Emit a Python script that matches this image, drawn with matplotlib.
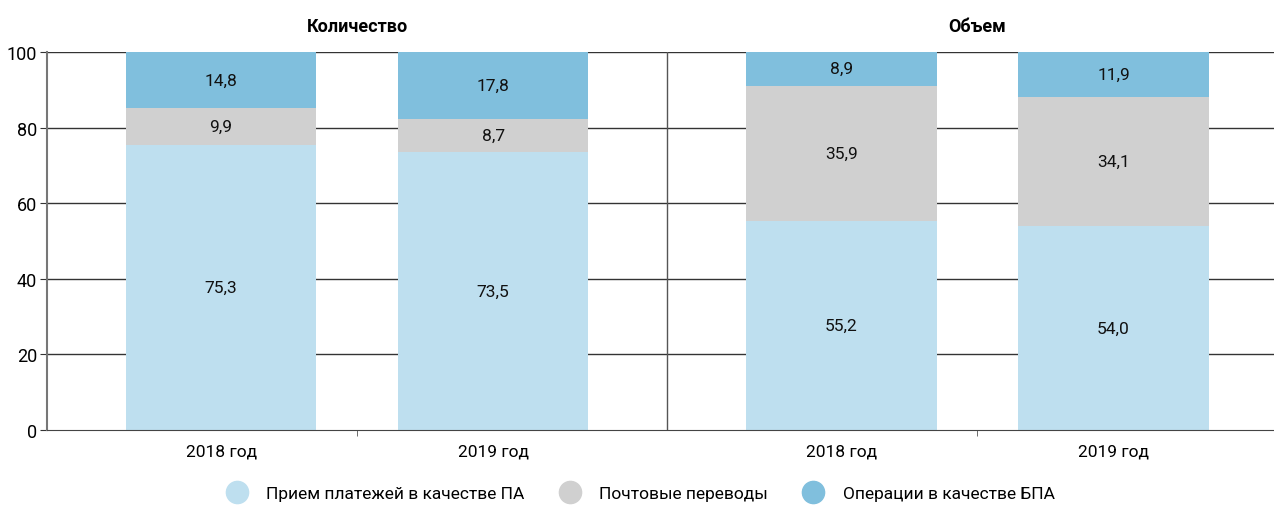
import matplotlib
matplotlib.use('Agg')
import matplotlib.pyplot as plt
from matplotlib.lines import Line2D

plt.rcParams['font.family'] = ['Roboto', 'DejaVu Sans']

years = ["2018 год", "2019 год", "2018 год", "2019 год"]
panels = ["Количество", "Объем"]
series = ["Прием платежей в качестве ПА", "Почтовые переводы", "Операции в качестве БПА"]
pa = [75.3, 73.5, 55.2, 54.0]
postal = [9.9, 8.7, 35.9, 34.1]
bpa = [14.8, 17.8, 8.9, 11.9]
colors = ["#bedfef", "#d0d0d0", "#80bfdd"]

x = [0, 1, 2.28, 3.28]
sep = 1.64
width = 0.7

fig = plt.figure(figsize=(12.74, 5.06), dpi=100)
ax = fig.add_axes([47 / 1274, 75 / 506, 1 - 47 / 1274, 378 / 506])

for v in [20, 40, 60, 80, 100]:
    ax.axhline(v, color="#333333", lw=1, zorder=0)
ax.axvline(sep, color="#555555", lw=1, zorder=0)

bottom = [0, 0, 0, 0]
for vals, c in zip([pa, postal, bpa], colors):
    ax.bar(x, vals, width, bottom=bottom, color=c, zorder=2)
    for xi, b, v in zip(x, bottom, vals):
        ax.text(xi, b + v / 2, f"{v:.1f}".replace(".", ","), ha="center", va="center",
                fontsize=12.5, color="#111111", zorder=3)
    bottom = [b + v for b, v in zip(bottom, vals)]

ax.set_xlim(-0.64, 3.87)
ax.set_ylim(0, 100)
ax.set_yticks([0, 20, 40, 60, 80, 100])
ax.tick_params(axis="y", labelsize=13, length=5, color="#333333", pad=2)
ax.set_xticks(x)
ax.set_xticklabels(years)
ax.tick_params(axis="x", labelsize=12.5, length=0, pad=10)
ax.set_xticks([0.5, 2.78], minor=True)
ax.tick_params(axis="x", which="minor", length=4, color="#555555")

for s in ["top", "right"]:
    ax.spines[s].set_visible(False)
ax.spines["left"].set_color("#777777")
ax.spines["left"].set_linewidth(1.5)
ax.spines["bottom"].set_color("#444444")

ax.text(0.5, 104.5, panels[0], ha="center", va="bottom", fontsize=13, fontweight="bold")
ax.text(2.78, 104.5, panels[1], ha="center", va="bottom", fontsize=13, fontweight="bold")

handles = [Line2D([], [], marker="o", ls="", markersize=16, color=c) for c in colors]
fig.legend(handles, series, loc="center", bbox_to_anchor=(0.5, 0.022), ncol=3, frameon=False,
           fontsize=12.5, handletextpad=0.7, columnspacing=1.6)

fig.savefig("out.png", dpi=100)
